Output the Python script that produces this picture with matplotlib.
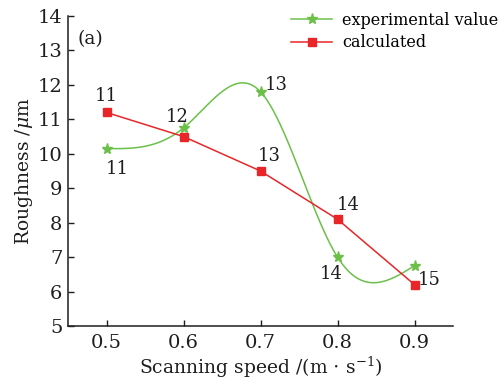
import numpy as np
import matplotlib

matplotlib.use("Agg")
import matplotlib.pyplot as plt

# ---------------------------------------------------------------------------
# Data
# ---------------------------------------------------------------------------
speed = [0.5, 0.6, 0.7, 0.8, 0.9]
experimental = [10.15, 10.75, 11.8, 7.0, 6.75]
calculated = [11.2, 10.5, 9.5, 8.1, 6.2]
exp_labels = ["11", "12", "13", "14", "15"]
calc_labels = ["11", "", "13", "14", ""]


def natural_spline(x, y, n=300):
    """Natural cubic spline through the points, for the smooth green line."""
    x = np.asarray(x, float)
    y = np.asarray(y, float)
    k = len(x)
    h = np.diff(x)
    a = np.zeros((k, k))
    b = np.zeros(k)
    a[0, 0] = a[-1, -1] = 1
    for i in range(1, k - 1):
        a[i, i - 1] = h[i - 1]
        a[i, i] = 2 * (h[i - 1] + h[i])
        a[i, i + 1] = h[i]
        b[i] = 3 * ((y[i + 1] - y[i]) / h[i] - (y[i] - y[i - 1]) / h[i - 1])
    c = np.linalg.solve(a, b)
    xs = np.linspace(x[0], x[-1], n)
    ys = np.empty_like(xs)
    for j, xv in enumerate(xs):
        i = min(np.searchsorted(x, xv, side="right") - 1, k - 2)
        bi = (y[i + 1] - y[i]) / h[i] - h[i] * (2 * c[i] + c[i + 1]) / 3
        di = (c[i + 1] - c[i]) / (3 * h[i])
        t = xv - x[i]
        ys[j] = y[i] + bi * t + c[i] * t ** 2 + di * t ** 3
    return xs, ys


plt.rcParams["font.family"] = ["DejaVu Serif"]
plt.rcParams["mathtext.fontset"] = "dejavuserif"

green = "#6cc04a"
red = "#e8262a"
ink = "#1e1e1e"

fig = plt.figure(figsize=(4.99, 3.79), dpi=100)
ax = fig.add_axes([68 / 499, 1 - 326 / 379, (453 - 68) / 499, (326 - 16) / 379])

xs, ys = natural_spline(speed, experimental)
ax.plot(xs, ys, color=green, lw=1.1)
ax.plot(speed, experimental, ls="none", marker="*", ms=8, color=green)
ax.plot(speed, calculated, color=red, lw=1.1, marker="s", ms=6)

# legend drawn with proxy handles
ax.plot([], [], color=green, lw=1.1, marker="*", ms=8, label="experimental value")
ax.plot([], [], color=red, lw=1.1, marker="s", ms=6, label="calculated")
handles, labels = ax.get_legend_handles_labels()
ax.legend(handles, labels, loc="upper right", bbox_to_anchor=(1.155, 1.06),
          frameon=False, fontsize=11.5, handlelength=2.6, handletextpad=0.6,
          labelspacing=0.35)

# point labels (offsets in points, label centre relative to the marker)
exp_off = [(7.5, -15), (-4.5, 8), (11, 5), (-4.5, -12), (10.5, -10.5)]
for xv, yv, t, off in zip(speed, experimental, exp_labels, exp_off):
    ax.annotate(t, (xv, yv), xytext=off, textcoords="offset points",
                ha="center", va="center", fontsize=13, color=ink)
calc_off = [(0, 12), (0, 0), (6, 10.5), (8, 10), (0, 0)]
for xv, yv, t, off in zip(speed, calculated, calc_labels, calc_off):
    if t:
        ax.annotate(t, (xv, yv), xytext=off, textcoords="offset points",
                    ha="center", va="center", fontsize=13, color=ink)

ax.text(0.024, 0.925, "(a)", transform=ax.transAxes, fontsize=13.5,
        va="center", color=ink)

ax.set_xlim(0.45, 0.95)
ax.set_ylim(5, 14)
ax.set_xticks(speed)
ax.set_xticklabels(["0.5", "0.6", "0.7", "0.8", "0.9"])
ax.set_yticks(range(5, 15))
ax.tick_params(direction="in", length=4.5, width=1, labelsize=14, colors=ink)
ax.tick_params(axis="x", pad=6)
ax.tick_params(axis="y", pad=4)
for side in ("top", "right"):
    ax.spines[side].set_visible(False)
for side in ("left", "bottom"):
    ax.spines[side].set_linewidth(1.1)
    ax.spines[side].set_color(ink)

ax.set_xlabel(r"Scanning speed /(m $\cdot$ s$^{-1}$)", fontsize=13.5,
              labelpad=2, color=ink)
ax.set_ylabel(r"Roughness /$\mu$m", fontsize=13.5, labelpad=2, color=ink)

fig.savefig("out.png", dpi=100)
